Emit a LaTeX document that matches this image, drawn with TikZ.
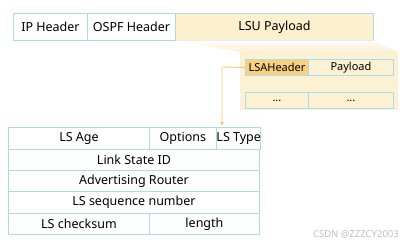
\documentclass[tikz,border=0pt]{standalone}
\usepackage{fontspec}
\setmainfont{Noto Sans}
\usetikzlibrary{arrows.meta}
\definecolor{bl}{HTML}{A9DDEE}
\definecolor{pay}{HTML}{FDF0CE}
\definecolor{exp}{HTML}{FDF1D4}
\definecolor{lsah}{HTML}{F9CF80}
\definecolor{arr}{HTML}{F8C670}
\begin{document}
\begin{tikzpicture}[x=1pt,y=-1pt,
  cell/.style={draw=bl,line width=0.9pt,font=\fontsize{12.5}{14}\selectfont,inner sep=0pt,anchor=north west},
  small/.style={font=\fontsize{11}{13}\selectfont}]
\useasboundingbox (0,0) rectangle (402,246);
% top bar
\node[cell,minimum width=74pt,minimum height=27pt] (ip) at (13,13) {IP Header};
\node[cell,minimum width=88pt,minimum height=27pt] (ospf) at (87,13) {OSPF Header};
\node[cell,fill=pay,minimum width=198pt,minimum height=27pt] (lsu) at (175,13) {LSU Payload};
% expansion
\shade[top color=exp!15,bottom color=exp] (175,40.5) -- (373,40.5) -- (398,52) -- (240,52) -- cycle;
\fill[exp] (240,52) rectangle (398,110);
\node[cell,small,fill=lsah,minimum width=63pt,minimum height=16pt] (lsa) at (245,59) {LSAHeader};
\node[cell,small,fill=exp,minimum width=85pt,minimum height=16pt] (pl) at (308,59) {Payload};
\node[cell,small,fill=exp,minimum width=63pt,minimum height=16pt] (d1) at (245,92) {...};
\node[cell,small,fill=exp,minimum width=85pt,minimum height=16pt] (d2) at (308,92) {...};
% connector
\coordinate (bend) at (222,67);
\draw[arr,line width=0.9pt,-{Latex[length=4pt,width=4pt]}] (lsa.west) -- (bend) -- (222,126);
% table
\node[cell,minimum width=141pt,minimum height=22pt] (age) at (8,127) {LS Age};
\node[cell,minimum width=67pt,minimum height=22pt] (opt) at (149,127) {Options};
\node[cell,minimum width=43pt,minimum height=22pt] (typ) at (216,127) {LS Type};
\node[cell,minimum width=251pt,minimum height=21pt] (lid) at (8,149) {Link State ID};
\node[cell,minimum width=251pt,minimum height=21pt] (adv) at (8,170) {Advertising Router};
\node[cell,minimum width=251pt,minimum height=22pt] (seq) at (8,191) {LS sequence number};
\node[cell,minimum width=141pt,minimum height=21pt] (chk) at (8,213) {LS checksum};
\node[cell,minimum width=110pt,minimum height=21pt] (len) at (149,213) {length};
\node[font=\fontsize{9.5}{11}\selectfont,text=black!25,anchor=east,inner sep=0pt] (wm) at (399,234) {CSDN @ZZZCY2003};
\end{tikzpicture}
\end{document}
